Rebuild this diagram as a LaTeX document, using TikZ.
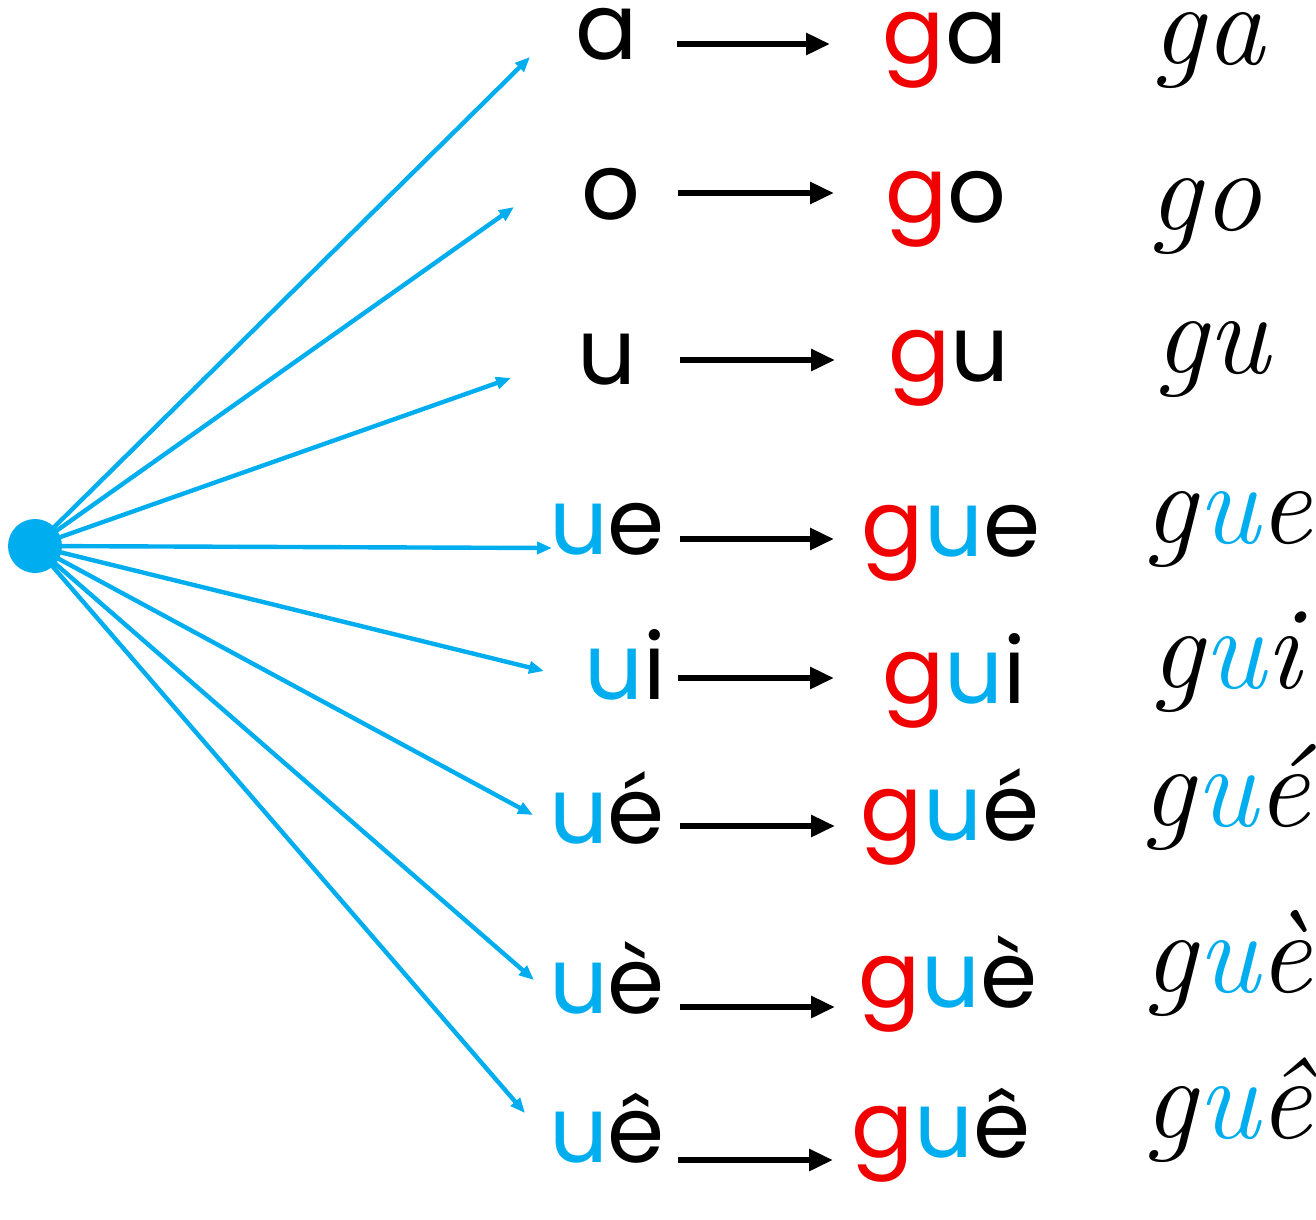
\documentclass[tikz,border=0pt]{standalone}
\usepackage{fontspec}
\setmainfont{Poppins}
\newfontfamily\cursivefont{Latin Modern Roman}
\usetikzlibrary{arrows.meta}
\definecolor{skyb}{RGB}{0,174,239}
\definecolor{redg}{RGB}{240,0,0}
\newcommand{\B}[1]{\textcolor{skyb}{#1}}
\newcommand{\R}[1]{\textcolor{redg}{#1}}
\tikzset{
  syl/.style={anchor=base, inner sep=0pt, font=\fontsize{92}{92}\selectfont},
  cur/.style={anchor=base, inner sep=0pt, font=\cursivefont\itshape\fontsize{118}{118}\selectfont},
  bluearrow/.style={draw=skyb, line width=4.4pt, -{Triangle[length=15pt,width=12pt]}},
  blackarrow/.style={draw=black, line width=5.8pt, -{Triangle[length=24pt,width=21pt]}}
}
\begin{document}
\begin{tikzpicture}[x=1pt,y=-1pt]
\useasboundingbox (0,0) rectangle (1316,1219);
% dot
\node[circle, fill=skyb, minimum width=54pt, minimum height=50pt, inner sep=0pt] (dot) at (35,546) {};
% left syllables
\node[syl] (l1) at (607,59) {a};
\node[syl] (l2) at (611,219) {o};
\node[syl] (l3) at (607,384) {u};
\node[syl] (l4) at (607,554) {\B{u}e};
\node[syl] (l5) at (625,699) {\B{u}i};
\node[syl] (l6) at (607,843) {\B{u}é};
\node[syl] (l7) at (607,1013) {\B{u}è};
\node[syl] (l8) at (607,1162) {\B{u}ê};
% middle
\node[syl] (m1) at (945,63) {\R{g}a};
\node[syl] (m2) at (946,222) {\R{g}o};
\node[syl] (m3) at (949,381) {\R{g}u};
\node[syl] (m4) at (951,556) {\R{g}\B{u}e};
\node[syl] (m5) at (954,703) {\R{g}\B{u}i};
\node[syl] (m6) at (950,840) {\R{g}\B{u}é};
\node[syl] (m7) at (948,1007) {\R{g}\B{u}è};
\node[syl] (m8) at (941,1157) {\R{g}\B{u}ê};
% cursive
\node[cur] (c1) at (1208,64) {ga};
\node[cur] (c2) at (1205,230) {go};
\node[cur] (c3) at (1212,373) {gu};
\node[cur] (c4) at (1228,543) {g\B{u}e};
\node[cur] (c5) at (1226,688) {g\B{u}i};
\node[cur] (c6) at (1226,826) {g\B{u}é};
\node[cur] (c7) at (1228,992) {g\B{u}è};
\node[cur] (c8) at (1228,1138) {g\B{u}ê};
% blue arrow ends
\coordinate (t1) at (530,57);
\coordinate (t2) at (514,207);
\coordinate (t3) at (511,378);
\coordinate (t4) at (552,548);
\coordinate (t5) at (544,671);
\coordinate (t6) at (533,815);
\coordinate (t7) at (534,980);
\coordinate (t8) at (525,1113);
\foreach \i in {1,...,8} \draw[bluearrow] (dot.center) -- (t\i);
% black arrows
\coordinate (a1s) at (677,44);   \coordinate (a1e) at (830,44);
\coordinate (a2s) at (678,193);  \coordinate (a2e) at (834,193);
\coordinate (a3s) at (680,360);  \coordinate (a3e) at (835,360);
\coordinate (a4s) at (680,539);  \coordinate (a4e) at (834,539);
\coordinate (a5s) at (678,678);  \coordinate (a5e) at (834,678);
\coordinate (a6s) at (680,826);  \coordinate (a6e) at (835,826);
\coordinate (a7s) at (680,1007); \coordinate (a7e) at (835,1007);
\coordinate (a8s) at (678,1160); \coordinate (a8e) at (833,1160);
\foreach \i in {1,...,8} \draw[blackarrow] (a\i s) -- (a\i e);
\end{tikzpicture}
\end{document}
